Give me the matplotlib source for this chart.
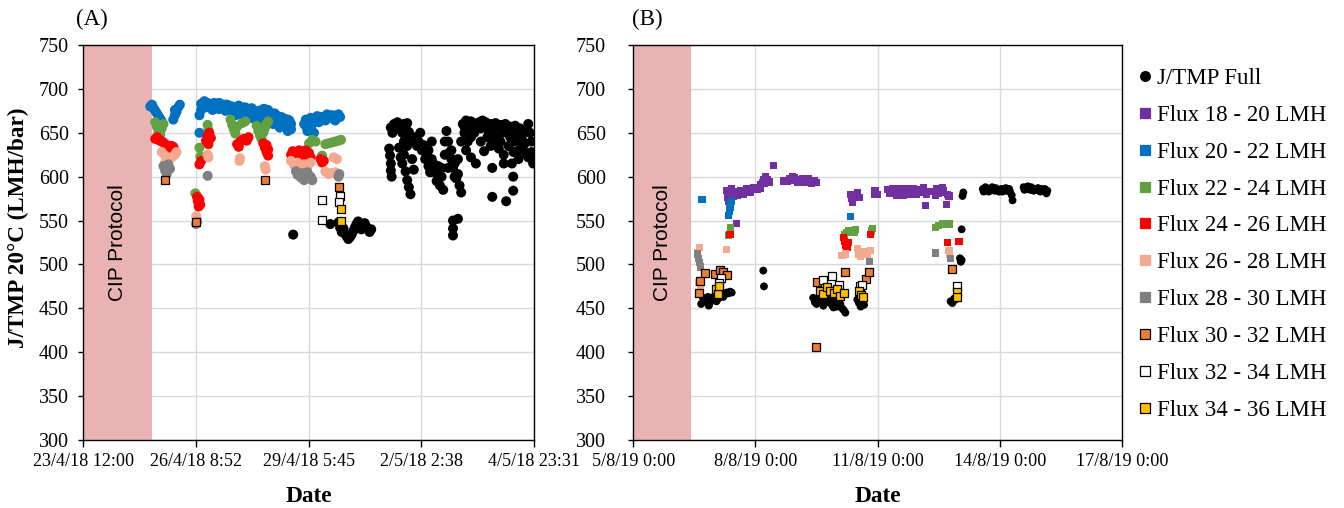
import pandas as pd
import matplotlib
matplotlib.use("Agg")
import matplotlib.pyplot as plt
import matplotlib.dates as mdates
from matplotlib.lines import Line2D

plt.rcParams['font.family'] = ['Liberation Serif', 'DejaVu Serif']

FMT = "%d/%m/%y %H:%M"

# ---- panel (A): hours since 23/4/18 12:00, value J/TMP 20°C ----
a_start = "23/4/18 12:00"
a_ticks = ["23/4/18 12:00", "26/4/18 8:52", "29/4/18 5:45", "2/5/18 2:38", "4/5/18 23:31"]
a_cip = ["23/4/18 12:00", "25/4/18 6:00"]

a_full = [(128.3, 534),
          (151, 546), (156, 548), (157, 542), (158, 537), (159, 541), (160, 535), (161, 532), (162, 529),
          (163, 531), (164, 534), (165, 538), (166, 542), (167, 546), (168, 549), (169, 545), (170, 540),
          (171, 544), (172, 547), (173, 543), (174, 540), (175, 537), (176, 540),
          (187, 632), (187.5, 624), (188, 615), (188, 607), (188.5, 600), (188, 656), (190, 660), (192, 662),
          (194, 658), (196, 660), (198, 661), (199, 651), (193, 633), (195, 615), (196, 625), (197, 606),
          (198, 596), (199, 588), (200, 580), (194, 622), (196, 640), (198, 635),
          (203, 645), (205, 640), (206, 650), (207, 630), (208, 636), (209, 620), (211, 612), (211, 630),
          (213, 620), (213, 640), (215, 605), (216, 595), (217, 612), (218, 590), (219, 600), (220, 585),
          (221, 625), (222, 652), (223, 640), (224, 628), (225, 620), (226, 610), (228, 598), (229, 603),
          (230, 590), (231, 582), (227, 615), (226, 550), (226, 541), (226, 533), (229, 552),
          (232, 660), (233, 650), (234, 664), (235, 640), (236, 662), (237, 645), (238, 658), (240, 655),
          (234, 630), (237, 622), (240, 615), (243, 640), (242, 662), (244, 664),
          (245, 629), (246, 662), (248, 650), (249, 660), (250, 610), (250, 577), (251, 640), (252, 661),
          (254, 632), (255, 659), (257, 625), (258, 660), (258.5, 572), (260, 635), (261, 657), (262, 615),
          (262.8, 584), (263, 628), (262.8, 600), (264, 658), (266, 620), (267, 655), (267, 640), (269, 630),
          (270, 652), (272, 622), (273, 650), (275, 615), (274, 640),
          (189, 650), (191, 655), (195, 650), (197, 644), (200, 640), (201, 620), (202, 608), (204, 635),
          (210, 625), (212, 605), (214, 615), (217, 598), (219, 610), (221, 640), (223, 610), (225, 630),
          (227, 600), (229, 620), (231, 640), (233, 657), (235, 654), (237, 663), (239, 650), (241, 661),
          (243, 655), (245, 658), (247, 645), (249, 635), (251, 655), (253, 645), (255, 640), (256, 650),
          (257, 615), (259, 650), (261, 645), (263, 640), (265, 650), (266, 630), (268, 645), (270, 638),
          (271, 625), (272, 660), (274, 628), (275, 620)]
a_f2022 = [(41, 680), (42, 682), (43, 678), (44, 675), (45, 672), (46, 669), (47, 666), (48, 663),
           (55, 665), (56, 670), (57, 674), (58, 679), (59, 682), (56, 676),
           (71, 650), (71, 670), (72, 676), (72, 683), (74, 686), (75, 679), (76, 684), (78, 681),
           (79, 676), (80, 684), (82, 682), (83, 677), (84, 683), (86, 680), (87, 675), (88, 682),
           (90, 680), (91, 674), (92, 678), (93, 670), (94, 676), (95, 681), (97, 675), (98, 668),
           (99, 679), (100, 673), (101, 668), (102, 677), (103, 672), (104, 666), (106, 674), (107, 668),
           (108, 662), (109, 670), (110, 677), (111, 671), (112, 664), (113, 676), (114, 668), (115, 672),
           (116, 660), (117, 666), (118, 670), (119, 663), (120, 656), (121, 668), (122, 661), (123, 666),
           (124, 658), (125, 652), (126, 664), (127, 660),
           (135, 660), (136, 665), (137, 652), (138, 662), (139, 667), (141, 664), (143, 669), (145, 665),
           (147, 667), (149, 671), (151, 669), (153, 666), (155, 670), (157, 668), (139, 656), (141, 650),
           (73, 679), (75, 684), (77, 679), (79, 683), (81, 678), (83, 684), (85, 678), (87, 682),
           (89, 676), (91, 680), (93, 677), (95, 673), (97, 679), (99, 671), (101, 676), (103, 678),
           (105, 670), (107, 675), (109, 665), (111, 677), (113, 670), (115, 666), (117, 672), (119, 668),
           (121, 661), (123, 660), (125, 665), (127, 654), (136, 658), (140, 660), (142, 667), (144, 662),
           (146, 668), (148, 664), (150, 667), (152, 670), (154, 664), (156, 671)]
a_f2224 = [(44, 662), (45, 657), (46, 652), (47, 648), (48, 655), (49, 660),
           (68.5, 581), (69.5, 578), (71, 633), (71.5, 623), (76, 659), (76.5, 653), (77, 648),
           (90, 665), (91, 659), (92, 654), (93, 649), (94, 657), (97, 661), (99, 663),
           (106, 658), (107, 652), (108, 647), (109, 643), (110, 650), (111, 655), (112, 660), (113, 663),
           (138, 638), (140, 642), (142, 640), (146, 624), (148, 637), (150, 638), (152, 639), (154, 640),
           (156, 641), (157.5, 642)]
a_f2426 = [(44, 643), (45, 645), (46, 642), (47, 641), (48, 640), (49, 639), (50, 629), (51, 636),
           (52, 633), (53, 631), (54, 635), (55, 634), (56, 630), (52, 626),
           (69.5, 577), (70, 572), (70.5, 566), (71, 574), (71.5, 568), (71, 614), (72, 618),
           (75, 641), (76, 646), (77, 650), (78, 644), (76.5, 637),
           (94, 637), (95, 634), (96, 640), (98, 643), (100, 641), (101, 645),
           (110, 638), (111, 633), (112, 628), (113, 624), (112, 636), (113, 631),
           (127, 625), (128, 629), (130, 627), (132, 628), (134, 626), (136, 630), (138, 627), (129, 622),
           (132, 630), (134, 624), (137, 628), (139, 622), (145, 620), (146, 616), (147, 618)]
a_f2628 = [(48, 628), (50, 624), (52, 620), (54, 622), (56, 625), (57, 628), (50, 616), (51, 612),
           (69, 555), (69.5, 551), (76, 625), (76.5, 622), (95.8, 621), (95.5, 618), (111, 612), (111.5, 608),
           (127, 618), (129, 613), (131, 616), (133, 610), (135, 614), (137, 611), (139, 616),
           (148, 606), (150, 603), (152, 604), (154, 605), (153, 622), (155, 620)]
a_f2830 = [(49, 612), (50, 607), (51, 603), (52, 614), (53, 609), (69, 546), (69.5, 548), (76, 601),
           (130, 606), (131, 602), (133, 599), (135, 596), (136, 600), (134, 604), (137, 605),
           (139, 600), (140, 596), (156, 600), (156.5, 603)]
a_f3032 = [(50, 596), (69, 548), (111, 596), (156.6, 588)]
a_f3234 = [(146, 573), (146, 551), (157, 578), (156.5, 571)]
a_f3436 = [(157.4, 563), (157.8, 549)]

# ---- panel (B): hours since 5/8/19 0:00 ----
b_start = "5/8/19 0:00"
b_ticks = ["5/8/19 0:00", "8/8/19 0:00", "11/8/19 0:00", "14/8/19 0:00", "17/8/19 0:00"]
b_cip = ["5/8/19 0:00", "6/8/19 10:00"]

b_full = [(40, 455), (41, 462), (42, 458), (43, 460), (44, 463), (45, 456), (46, 462), (47, 460),
          (48, 464), (49, 458), (50, 461), (51, 463), (52, 466), (53, 463), (54, 466), (55, 468),
          (56, 467), (57, 469), (58, 468), (44.5, 453), (76.6, 493), (77, 475),
          (106, 462), (107, 457), (108, 455), (109, 461), (110, 458), (111, 463), (112, 453), (113, 460),
          (114, 462), (115, 457), (116, 460), (117, 454), (118, 451), (119, 457), (120, 461), (121, 465),
          (122, 455), (123, 450), (124, 448), (125, 445), (120, 452),
          (132, 460), (133, 456), (134, 452), (135, 458), (136, 454),
          (187, 458), (188, 456), (189, 461), (190, 460),
          (192.5, 507), (193, 503), (193.5, 505), (193.5, 540), (194, 578), (194.5, 582),
          (206, 586), (207, 585), (208, 587), (209, 586), (210, 585), (211, 585), (212, 586), (213, 584),
          (214, 585), (215, 585), (216, 585), (217, 586), (218, 584), (219, 585), (220, 584), (221, 584),
          (222, 583), (223, 579), (223.5, 573),
          (230, 588), (231, 587), (232, 586), (233, 586), (234, 585), (235, 585), (236, 584), (237, 585),
          (238, 585), (239, 584), (240, 583), (241, 584), (242, 584), (243, 583), (244, 584),
          (206.5, 583), (207.5, 588), (209.5, 583), (211.5, 588), (213.5, 587), (215.5, 583), (217.5, 583),
          (219.5, 587), (221.5, 586), (230.5, 585), (232.5, 589), (234.5, 588), (236.5, 586), (238.5, 587),
          (240.5, 586), (242.5, 586), (243.5, 581)]
b_f1820 = [(55, 584), (55.5, 576), (56, 572), (57, 581), (58, 586), (59, 578), (60, 581), (61, 547),
           (62, 582), (64, 582), (66, 583), (68, 584), (70, 585), (72, 587), (74, 588), (75, 591),
           (76, 593), (77, 597), (78, 600), (79, 597), (80, 594), (82.5, 613), (88.4, 595), (92, 598),
           (94, 600), (96, 597), (98, 596), (100, 598), (102, 596), (104, 595), (106, 594), (108, 593),
           (128, 580), (128.5, 575), (129, 571), (130, 577), (132, 582), (133, 576), (142, 580), (142.5, 584),
           (144, 580), (150, 585), (152, 583), (154, 582), (156, 584), (158, 581), (160, 583), (162, 582),
           (164, 584), (166, 583), (168, 585), (170, 582), (172, 567), (173, 580), (174, 583), (177, 583),
           (179, 586), (181, 582), (183, 584), (185, 580), (184.7, 568), (186, 578),
           (57.5, 577), (59.5, 583), (61.5, 579), (63, 584), (65, 580), (67, 586), (69, 582), (71, 588),
           (73, 585), (75, 587), (77, 592), (91, 595), (93, 596), (95, 599), (97, 594), (99, 595),
           (101, 593), (103, 598), (105, 592), (107, 596), (151, 581), (153, 586), (155, 579), (157, 586),
           (159, 579), (161, 586), (163, 580), (165, 586), (167, 580), (169, 583), (171, 587), (178, 579),
           (180, 581), (182, 587)]
b_f2022 = [(40.5, 574), (56, 556), (56.5, 560), (57, 565), (57.5, 569), (58, 572), (128, 555)]
b_f2224 = [(56, 533), (57.5, 542), (124.5, 534), (126, 536), (127, 539), (131, 540), (130.5, 536),
           (141, 541), (140.5, 538), (178, 542), (180, 544), (182, 546), (184, 547), (186, 546)]
b_f2426 = [(57, 534), (124, 531), (124.5, 526), (125, 522), (126, 519), (127, 525), (140, 534),
           (185, 525), (192, 526)]
b_f2628 = [(39, 519), (38, 514), (38.5, 479), (39.5, 475), (55, 517), (123, 510), (125, 512),
           (132, 518), (133, 512), (134, 509), (136, 515), (138, 511), (140, 516), (186, 516), (186.5, 512)]
b_f2830 = [(38, 512), (38.5, 507), (39, 502), (39.5, 497), (139, 503), (178, 513), (187, 507)]
b_f3032 = [(38.7, 467), (39.3, 481), (42, 490), (48, 489), (51, 494), (53, 491), (55, 488),
           (107.5, 406), (108.5, 480), (125, 491), (137, 483), (139, 491), (188, 495)]
b_f3234 = [(51.5, 485), (50.5, 479), (117, 487), (121, 477), (112, 482), (133.5, 475), (135, 477), (191, 475)]
b_f3436 = [(49, 472), (50, 466), (50.5, 476), (110, 470), (112, 466), (114, 474), (116, 470), (118, 467),
           (120, 472), (122, 464), (124, 468), (133, 470), (134, 465), (135.5, 463), (191, 469), (191, 463)]

labels = ["J/TMP Full", "Flux 18 - 20 LMH", "Flux 20 - 22 LMH", "Flux 22 - 24 LMH", "Flux 24 - 26 LMH",
          "Flux 26 - 28 LMH", "Flux 28 - 30 LMH", "Flux 30 - 32 LMH", "Flux 32 - 34 LMH", "Flux 34 - 36 LMH"]
colors = ["black", "#7030A0", "#0070C0", "#62A041", "#FF0000", "#F2A98F", "#808080", "#ED7D31", "white", "#FFC000"]
edges = ["none"] * 7 + ["black"] * 3

a_series = [a_full, [], a_f2022, a_f2224, a_f2426, a_f2628, a_f2830, a_f3032, a_f3234, a_f3436]
b_series = [b_full, b_f1820, b_f2022, b_f2224, b_f2426, b_f2628, b_f2830, b_f3032, b_f3234, b_f3436]

W, H = 1344, 508
fig = plt.figure(figsize=(W / 100, H / 100), dpi=100)
ax_a = fig.add_axes([83.3 / W, 1 - 440 / H, 450.7 / W, 395 / H])
ax_b = fig.add_axes([633.3 / W, 1 - 440 / H, 488.7 / W, 395 / H])


def to_num(start, hours):
    t = pd.to_datetime(start, format=FMT) + pd.to_timedelta(hours, unit="h")
    return mdates.date2num(t)


def setup(ax, ticks, cip, ypad):
    tnum = [mdates.date2num(pd.to_datetime(t, format=FMT)) for t in ticks]
    ax.set_xlim(tnum[0], tnum[-1])
    ax.set_ylim(300, 750)
    ax.set_xticks(tnum)
    ax.set_xticklabels(ticks)
    ax.set_yticks(range(300, 751, 50))
    ax.set_axisbelow(True)
    ax.grid(True, color="#d9d9d9", lw=1)
    for s in ax.spines.values():
        s.set_color("black")
        s.set_linewidth(1)
    ax.tick_params(axis="x", direction="out", length=5, width=1, labelsize=13.1, pad=4)
    ax.tick_params(axis="y", direction="out", length=3.6, width=1, labelsize=14.4, pad=ypad)
    c0, c1 = [mdates.date2num(pd.to_datetime(t, format=FMT)) for t in cip]
    ax.axvspan(c0, c1, color="#E9B3B3", zorder=1, lw=0)
    ax.text((c0 + c1) / 2, 525, "CIP Protocol", rotation=90, ha="center", va="center",
            fontsize=15, family="Liberation Sans", zorder=1.5)
    ax.set_xlabel("Date", fontsize=16.8, fontweight="bold", labelpad=12)


setup(ax_a, a_ticks, a_cip, 6.8)
setup(ax_b, b_ticks, b_cip, 16)

# panel A: coloured series as circles, high-flux as edged squares
for i, pts in enumerate(a_series):
    if not pts:
        continue
    h = [p[0] for p in pts]
    v = [p[1] for p in pts]
    mk = "s" if edges[i] == "black" else "o"
    ax_a.scatter(to_num(a_start, h), v, s=30 if mk == "s" else 52, marker=mk, c=colors[i],
                 edgecolors=edges[i], linewidths=0.9, zorder=2 + i * 0.1)

for i, pts in enumerate(b_series):
    h = [p[0] for p in pts]
    v = [p[1] for p in pts]
    mk = "o" if i == 0 else "s"
    ax_b.scatter(to_num(b_start, h), v, s=32 if i == 0 else 27, marker=mk, c=colors[i],
                 edgecolors=edges[i], linewidths=0.9, zorder=2 + i * 0.1)

fig.text(18 / W, 1 - 228 / H, "J/TMP 20°C (LMH/bar)", rotation=90, ha="center", va="center",
         fontsize=16.7, fontweight="bold")
fig.text(92 / W, 1 - 19 / H, "(A)", ha="center", va="center", fontsize=16.5)
fig.text(647 / W, 1 - 19 / H, "(B)", ha="center", va="center", fontsize=16.5)

handles = []
for i, lab in enumerate(labels):
    handles.append(Line2D([], [], ls="none", marker="o" if i == 0 else "s", markersize=7,
                          markerfacecolor=colors[i],
                          markeredgecolor="black" if edges[i] == "black" or i == 0 else colors[i],
                          markeredgewidth=0.9))
fig.legend(handles, labels, loc="upper left", bbox_to_anchor=(1139 / W, 1 - 68 / H), frameon=False,
           fontsize=16.5, handlelength=0.5, handletextpad=0.27, labelspacing=0.69,
           borderpad=0, borderaxespad=0)

fig.savefig("out.png", dpi=100)
